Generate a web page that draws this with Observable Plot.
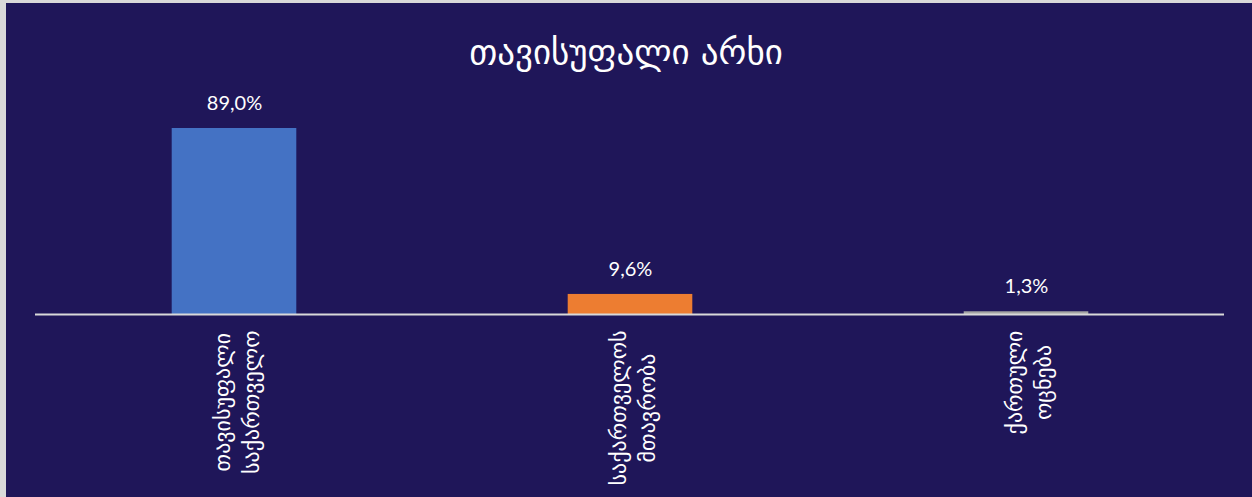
<!DOCTYPE html>
<html>
<head>
<meta charset="utf-8">
<script src="https://cdn.jsdelivr.net/npm/d3@7"></script>
<script src="https://cdn.jsdelivr.net/npm/@observablehq/plot@0.6"></script>
<style>
  html, body { margin: 0; padding: 0; background: #1F1659; }
  #wrap {
    position: relative; width: 1252px; height: 497px; overflow: hidden;
    background: #1F1659; box-shadow: inset 6px 3px 0 #D9D9D9;
  }
  #title {
    height: 82px; width: 1252px; box-sizing: border-box; padding-top: 34px;
    text-align: center; color: #ffffff; font-family: "DejaVu Sans", sans-serif;
    font-size: 35px; line-height: 36px;
  }
  svg { display: block; background: transparent !important; }
</style>
</head>
<body>
<div id="wrap">
  <div id="title">თავისუფალი არხი</div>
  <div id="chart"></div>
</div>
<script>
const categories = ["თავისუფალი\nსაქართველო", "საქართველოს\nმთავრობა", "ქართული\nოცნება"];
const values = [89.0, 9.6, 1.3];
const colors = ["#4472C4", "#ED7D31", "#A5A5A5"];

const data = categories.map((c, i) => ({category: c, value: values[i], color: colors[i]}));
const fmt = v => v.toFixed(1).replace(".", ",") + "%";

const labelFont = 22;
const canvas = document.createElement("canvas");
const ctx = canvas.getContext("2d");
ctx.font = `${labelFont}px "DejaVu Sans"`;
const maxWidth = c => d3.max(c.split("\n"), l => ctx.measureText(l).width);

const labelMarks = data.map(d => Plot.text([d], {
  x: "category", frameAnchor: "bottom", text: "category", rotate: -90,
  textAnchor: "middle", lineAnchor: "middle", lineHeight: 1.3,
  dx: 1, dy: 16 + maxWidth(d.category) / 2, fill: "#ffffff",
  fontSize: labelFont, fontFamily: "DejaVu Sans"
}));

const chart = Plot.plot({
  width: 1252,
  height: 415,
  marginLeft: 35,
  marginRight: 28,
  marginTop: 23,
  marginBottom: 183,
  style: {background: "transparent", color: "#ffffff"},
  x: {type: "band", domain: categories, padding: 0, axis: null},
  y: {domain: [0, 100], axis: null},
  marks: [
    Plot.barY(data, {x: "category", y: "value", fill: "color", insetLeft: 135.7, insetRight: 135.7}),
    Plot.ruleY([0], {stroke: "#D9D9D9", strokeWidth: 2}),
    Plot.text(data, {x: "category", y: "value", text: d => fmt(d.value), dy: -25,
      fill: "#ffffff", fontSize: 20, fontFamily: "Lato"}),
    ...labelMarks
  ]
});
document.getElementById("chart").appendChild(chart);
</script>
</body>
</html>
